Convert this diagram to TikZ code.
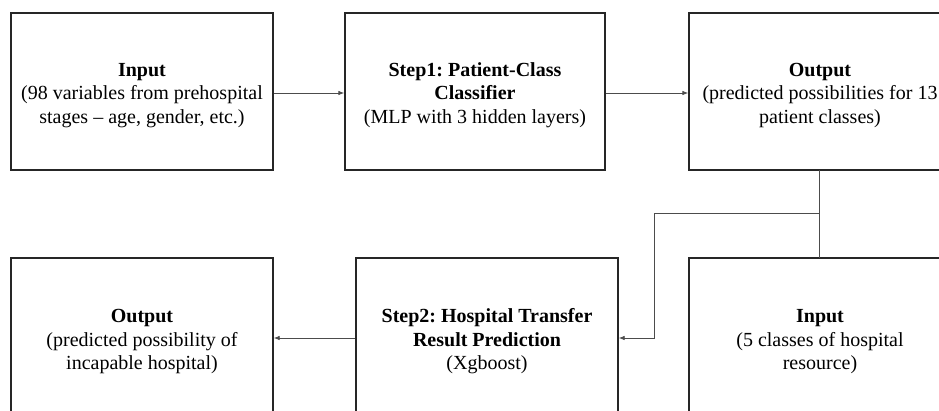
\documentclass[tikz,border=0pt]{standalone}
\usepackage{fontspec}
\setmainfont{Liberation Serif}
\usetikzlibrary{arrows.meta,calc}
\newcommand{\topstrut}{\rule{0pt}{20.5pt}}
\begin{document}
\frenchspacing
\begin{tikzpicture}[x=1pt,y=-1pt,
  box/.style={draw=black!85,line width=1.3pt,minimum width=262pt,minimum height=157pt,
    inner sep=0pt,align=center,font=\fontsize{20}{23.5}\selectfont},
  conn/.style={draw=black!70,line width=0.8pt},
  arr/.style={conn,-{Latex[length=6pt,width=4.5pt]}}]
\useasboundingbox (0,0) rectangle (939,410);
\clip (0,0) rectangle (939,410);
\node[box] (in1) at (142,91.5) {\topstrut\textbf{Input}\\(98 variables from prehospital\\stages -- age, gender, etc.)};
\node[box,minimum width=260pt] (step1) at (475,91.5) {\topstrut\textbf{Step1: Patient-Class}\\\textbf{Classifier}\\(MLP with 3 hidden layers)};
\node[box] (out1) at (820,91.5) {\topstrut\textbf{Output}\\(predicted possibilities for 13\\patient classes)};
\node[box,minimum height=160pt] (out2) at (142,338) {\topstrut\textbf{Output}\\(predicted possibility of\\incapable hospital)};
\node[box,minimum height=160pt] (step2) at (487,338) {\topstrut\textbf{Step2: Hospital Transfer}\\\textbf{Result Prediction}\\(Xgboost)};
\node[box,minimum height=160pt] (in2) at (820,338) {\topstrut\textbf{Input}\\(5 classes of hospital\\resource)};
\draw[arr] (in1.east |- 0,93) -- (step1.west |- 0,93);
\draw[arr] (step1.east |- 0,93) -- (out1.west |- 0,93);
\draw[conn] (819,170) -- (819,258);
\coordinate (br) at (819,213);
\draw[arr] (br) -- (654,213) |- (step2.east);
\draw[arr] (step2.west) -- (out2.east);
\end{tikzpicture}
\end{document}
